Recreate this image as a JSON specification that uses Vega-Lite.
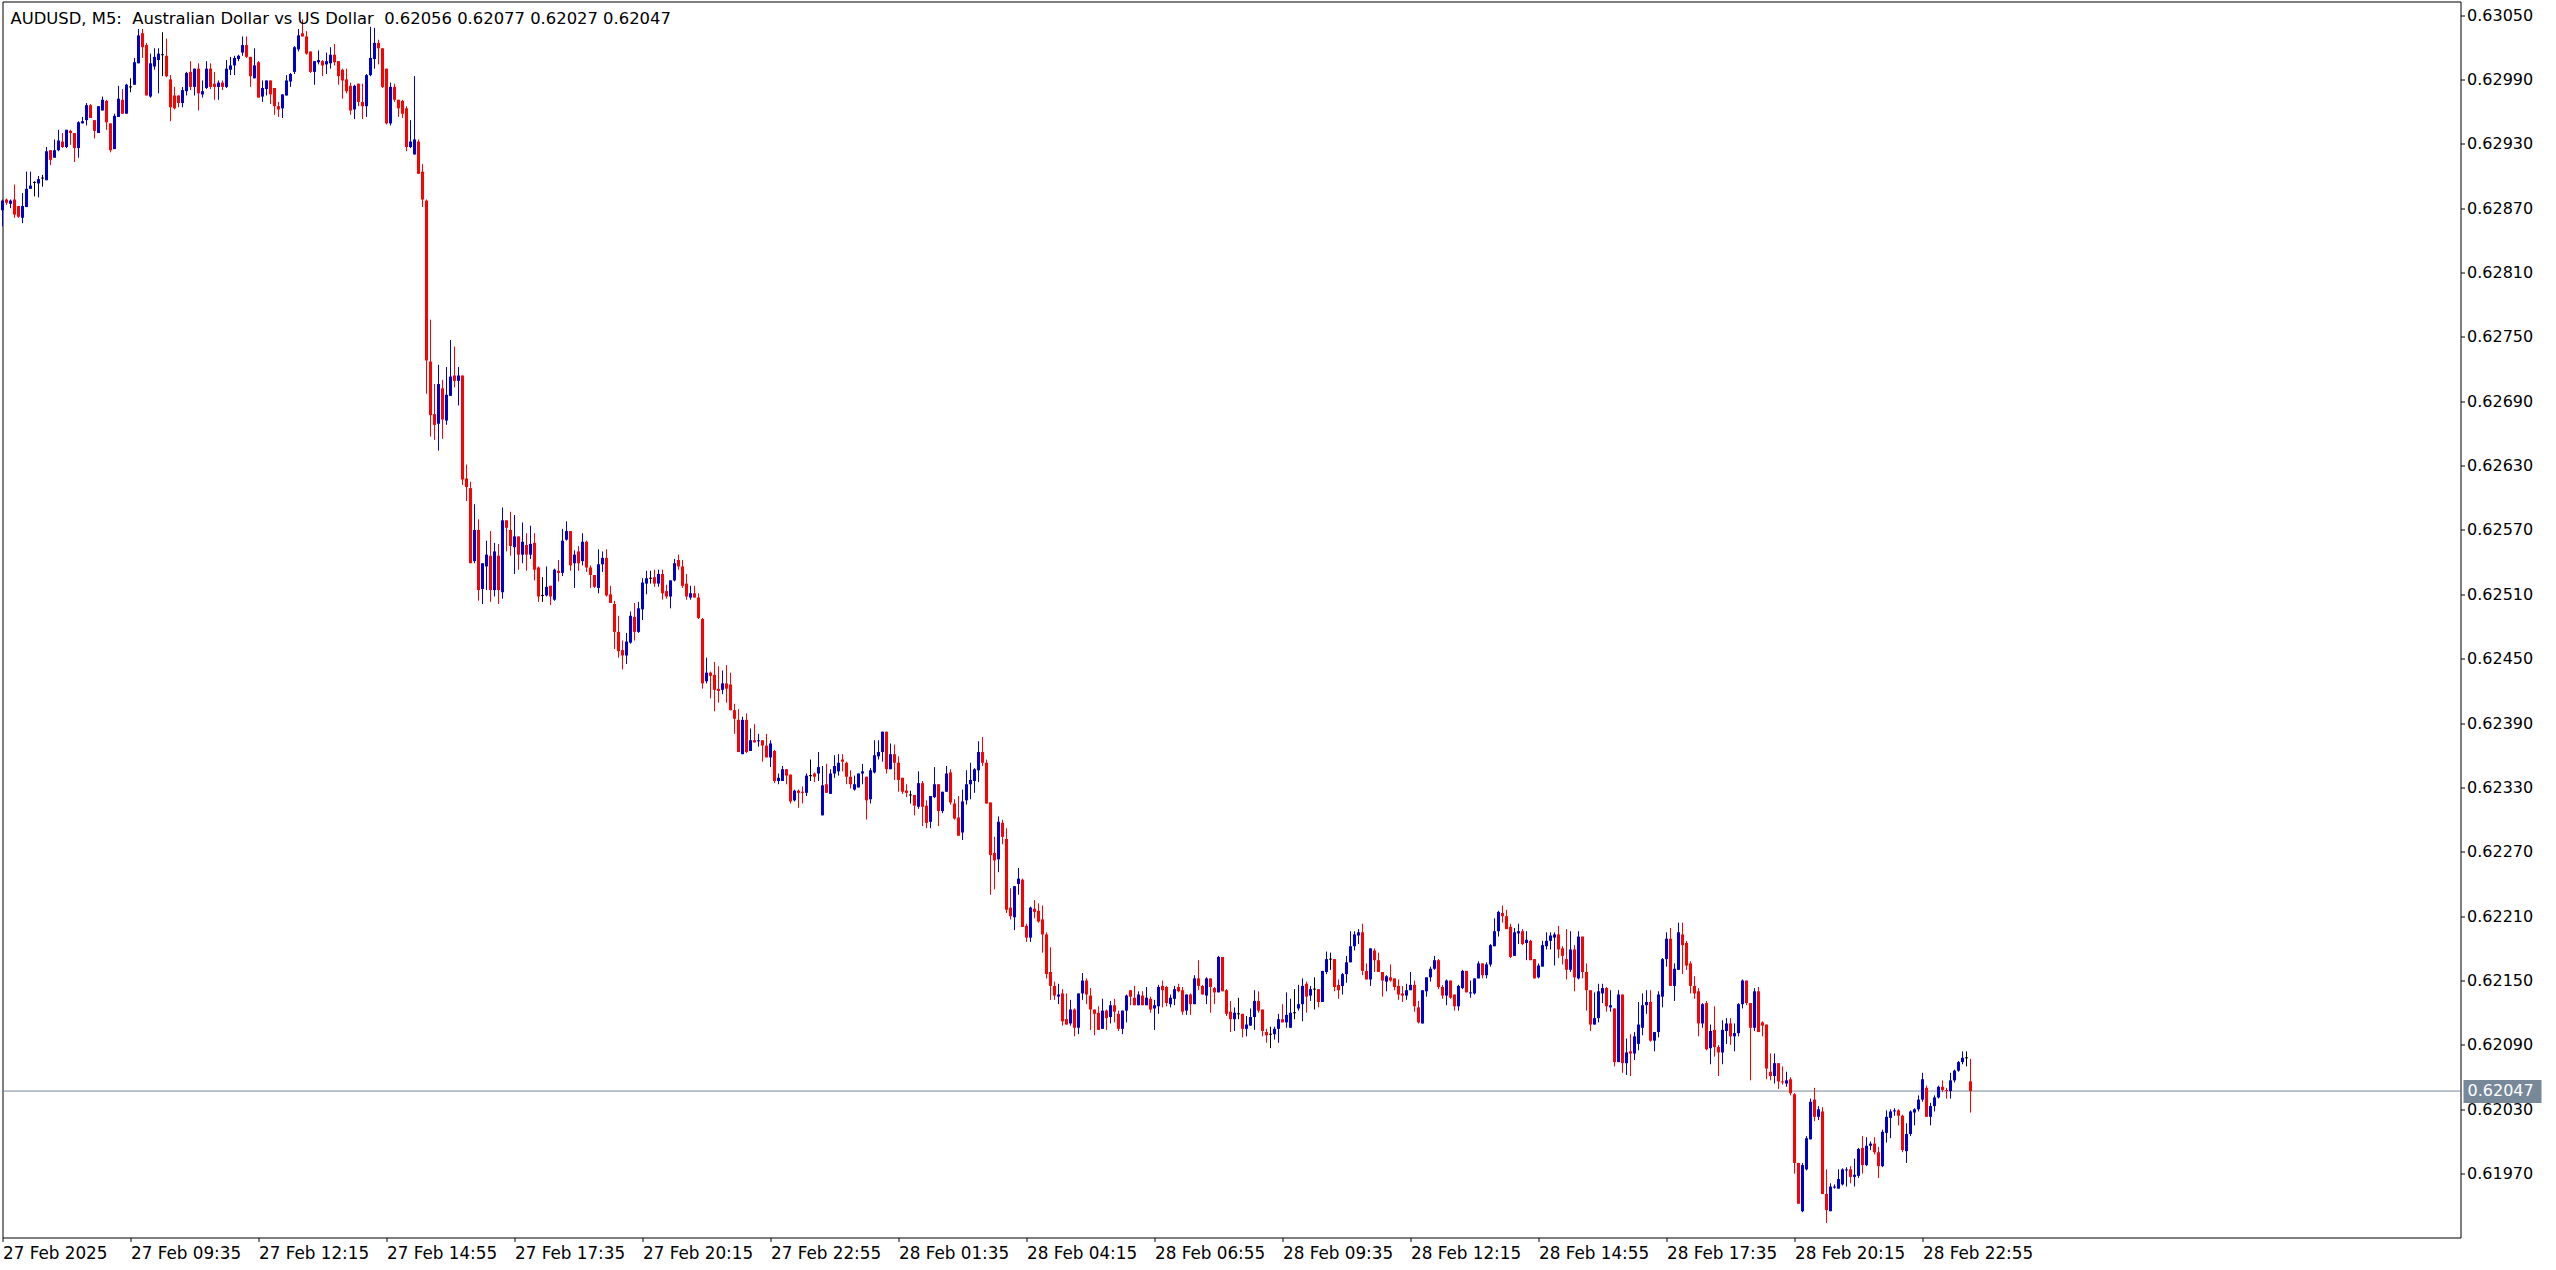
{
  "$schema": "https://vega.github.io/schema/vega-lite/v6.json",
  "width": 2458,
  "height": 1236,
  "autosize": "none",
  "padding": {"left": 2.5, "top": 1.5, "right": 95.5, "bottom": 32.5},
  "background": "#ffffff",
  "title": {
    "text": "AUDUSD, M5:\u00a0 Australian Dollar vs US Dollar\u00a0 0.62056 0.62077 0.62027 0.62047",
    "anchor": "start",
    "frame": "group",
    "orient": "top",
    "offset": -21,
    "dx": 8,
    "dy": 18,
    "font": "DejaVu Sans",
    "fontSize": 16.4,
    "fontWeight": "normal",
    "color": "#000000",
    "baseline": "alphabetic"
  },
  "config": {
    "view": {"stroke": "#000000", "strokeWidth": 1},
    "font": "DejaVu Sans",
    "axis": {
      "labelFont": "DejaVu Sans",
      "labelFontSize": 16,
      "labelColor": "#000000",
      "tickColor": "#000000",
      "tickWidth": 1,
      "domain": false,
      "grid": false,
      "title": null
    }
  },
  "datasets": {
    "bars": [
{"i":0,"o":0.62868,"h":0.62878,"l":0.62853,"c":0.62877},
{"i":1,"o":0.62878,"h":0.62879,"l":0.62873,"c":0.62875},
{"i":2,"o":0.62874,"h":0.62878,"l":0.62870,"c":0.62877},
{"i":3,"o":0.62878,"h":0.62892,"l":0.62861,"c":0.62864},
{"i":4,"o":0.62872,"h":0.62872,"l":0.62861,"c":0.62862},
{"i":5,"o":0.62861,"h":0.62884,"l":0.62856,"c":0.62872},
{"i":6,"o":0.62871,"h":0.62904,"l":0.62871,"c":0.62888},
{"i":7,"o":0.62888,"h":0.62904,"l":0.62888,"c":0.62891},
{"i":8,"o":0.62894,"h":0.62895,"l":0.62881,"c":0.62894},
{"i":9,"o":0.62893,"h":0.62900,"l":0.62880,"c":0.62897},
{"i":10,"o":0.62898,"h":0.62901,"l":0.62890,"c":0.62898},
{"i":11,"o":0.62896,"h":0.62927,"l":0.62896,"c":0.62923},
{"i":12,"o":0.62924,"h":0.62924,"l":0.62910,"c":0.62915},
{"i":13,"o":0.62917,"h":0.62934,"l":0.62917,"c":0.62924},
{"i":14,"o":0.62924,"h":0.62943,"l":0.62923,"c":0.62933},
{"i":15,"o":0.62932,"h":0.62940,"l":0.62926,"c":0.62927},
{"i":16,"o":0.62927,"h":0.62943,"l":0.62926,"c":0.62943},
{"i":17,"o":0.62942,"h":0.62943,"l":0.62929,"c":0.62940},
{"i":18,"o":0.62940,"h":0.62940,"l":0.62913,"c":0.62926},
{"i":19,"o":0.62926,"h":0.62951,"l":0.62917,"c":0.62950},
{"i":20,"o":0.62949,"h":0.62955,"l":0.62949,"c":0.62951},
{"i":21,"o":0.62952,"h":0.62968,"l":0.62947,"c":0.62966},
{"i":22,"o":0.62966,"h":0.62967,"l":0.62954,"c":0.62954},
{"i":23,"o":0.62952,"h":0.62952,"l":0.62935,"c":0.62942},
{"i":24,"o":0.62940,"h":0.62965,"l":0.62940,"c":0.62965},
{"i":25,"o":0.62961,"h":0.62974,"l":0.62961,"c":0.62971},
{"i":26,"o":0.62970,"h":0.62971,"l":0.62943,"c":0.62950},
{"i":27,"o":0.62949,"h":0.62949,"l":0.62922,"c":0.62924},
{"i":28,"o":0.62925,"h":0.62958,"l":0.62925,"c":0.62956},
{"i":29,"o":0.62955,"h":0.62984,"l":0.62955,"c":0.62972},
{"i":30,"o":0.62971,"h":0.62981,"l":0.62958,"c":0.62958},
{"i":31,"o":0.62958,"h":0.62986,"l":0.62958,"c":0.62985},
{"i":32,"o":0.62983,"h":0.62991,"l":0.62978,"c":0.62983},
{"i":33,"o":0.62985,"h":0.63010,"l":0.62985,"c":0.63006},
{"i":34,"o":0.63005,"h":0.63037,"l":0.63005,"c":0.63031},
{"i":35,"o":0.63033,"h":0.63037,"l":0.63010,"c":0.63020},
{"i":36,"o":0.63022,"h":0.63024,"l":0.62975,"c":0.62975},
{"i":37,"o":0.62974,"h":0.63014,"l":0.62973,"c":0.63005},
{"i":38,"o":0.63002,"h":0.63019,"l":0.62999,"c":0.63011},
{"i":39,"o":0.63008,"h":0.63019,"l":0.62977,"c":0.63014},
{"i":40,"o":0.63013,"h":0.63034,"l":0.62993,"c":0.63013},
{"i":41,"o":0.63012,"h":0.63028,"l":0.62992,"c":0.62993},
{"i":42,"o":0.62990,"h":0.62994,"l":0.62951,"c":0.62964},
{"i":43,"o":0.62975,"h":0.62983,"l":0.62962,"c":0.62963},
{"i":44,"o":0.62975,"h":0.62975,"l":0.62964,"c":0.62968},
{"i":45,"o":0.62968,"h":0.62983,"l":0.62964,"c":0.62980},
{"i":46,"o":0.62979,"h":0.62997,"l":0.62975,"c":0.62996},
{"i":47,"o":0.62997,"h":0.63007,"l":0.62980,"c":0.62983},
{"i":48,"o":0.62983,"h":0.63000,"l":0.62975,"c":0.63000},
{"i":49,"o":0.63000,"h":0.63005,"l":0.62961,"c":0.62977},
{"i":50,"o":0.62976,"h":0.62989,"l":0.62973,"c":0.62979},
{"i":51,"o":0.62982,"h":0.63007,"l":0.62981,"c":0.63000},
{"i":52,"o":0.63000,"h":0.63005,"l":0.62981,"c":0.62983},
{"i":53,"o":0.62986,"h":0.62997,"l":0.62971,"c":0.62983},
{"i":54,"o":0.62983,"h":0.62989,"l":0.62971,"c":0.62987},
{"i":55,"o":0.62987,"h":0.62989,"l":0.62980,"c":0.62983},
{"i":56,"o":0.62983,"h":0.63008,"l":0.62982,"c":0.63000},
{"i":57,"o":0.62999,"h":0.63011,"l":0.62994,"c":0.63003},
{"i":58,"o":0.63003,"h":0.63012,"l":0.62994,"c":0.63010},
{"i":59,"o":0.63009,"h":0.63013,"l":0.63007,"c":0.63012},
{"i":60,"o":0.63015,"h":0.63030,"l":0.63012,"c":0.63022},
{"i":61,"o":0.63022,"h":0.63030,"l":0.63010,"c":0.63011},
{"i":62,"o":0.63011,"h":0.63011,"l":0.62983,"c":0.62993},
{"i":63,"o":0.62991,"h":0.63019,"l":0.62991,"c":0.63003},
{"i":64,"o":0.63006,"h":0.63007,"l":0.62973,"c":0.62973},
{"i":65,"o":0.62974,"h":0.62989,"l":0.62969,"c":0.62982},
{"i":66,"o":0.62981,"h":0.62989,"l":0.62975,"c":0.62989},
{"i":67,"o":0.62989,"h":0.62989,"l":0.62967,"c":0.62976},
{"i":68,"o":0.62982,"h":0.62982,"l":0.62957,"c":0.62965},
{"i":69,"o":0.62965,"h":0.62969,"l":0.62955,"c":0.62962},
{"i":70,"o":0.62963,"h":0.62976,"l":0.62954,"c":0.62976},
{"i":71,"o":0.62975,"h":0.62994,"l":0.62975,"c":0.62989},
{"i":72,"o":0.62988,"h":0.62996,"l":0.62983,"c":0.62995},
{"i":73,"o":0.62997,"h":0.63021,"l":0.62995,"c":0.63020},
{"i":74,"o":0.63018,"h":0.63037,"l":0.63016,"c":0.63031},
{"i":75,"o":0.63033,"h":0.63046,"l":0.63030,"c":0.63030},
{"i":76,"o":0.63030,"h":0.63035,"l":0.63013,"c":0.63014},
{"i":77,"o":0.63016,"h":0.63016,"l":0.62996,"c":0.62997},
{"i":78,"o":0.62997,"h":0.63007,"l":0.62985,"c":0.63007},
{"i":79,"o":0.63006,"h":0.63017,"l":0.63004,"c":0.63008},
{"i":80,"o":0.63007,"h":0.63008,"l":0.62993,"c":0.63003},
{"i":81,"o":0.63004,"h":0.63015,"l":0.62995,"c":0.63007},
{"i":82,"o":0.63005,"h":0.63020,"l":0.63000,"c":0.63013},
{"i":83,"o":0.63013,"h":0.63023,"l":0.63003,"c":0.63006},
{"i":84,"o":0.63007,"h":0.63007,"l":0.62985,"c":0.62993},
{"i":85,"o":0.62999,"h":0.63000,"l":0.62972,"c":0.62989},
{"i":86,"o":0.62990,"h":0.63000,"l":0.62977,"c":0.62979},
{"i":87,"o":0.62984,"h":0.62987,"l":0.62957,"c":0.62961},
{"i":88,"o":0.62962,"h":0.62985,"l":0.62953,"c":0.62984},
{"i":89,"o":0.62986,"h":0.62986,"l":0.62965,"c":0.62969},
{"i":90,"o":0.62969,"h":0.62986,"l":0.62953,"c":0.62965},
{"i":91,"o":0.62965,"h":0.62995,"l":0.62955,"c":0.62994},
{"i":92,"o":0.62994,"h":0.63039,"l":0.62993,"c":0.63010},
{"i":93,"o":0.63009,"h":0.63038,"l":0.63000,"c":0.63024},
{"i":94,"o":0.63024,"h":0.63027,"l":0.63004,"c":0.63019},
{"i":95,"o":0.63019,"h":0.63019,"l":0.62982,"c":0.62983},
{"i":96,"o":0.63000,"h":0.63000,"l":0.62948,"c":0.62949},
{"i":97,"o":0.62949,"h":0.62987,"l":0.62947,"c":0.62983},
{"i":98,"o":0.62983,"h":0.62986,"l":0.62969,"c":0.62971},
{"i":99,"o":0.62971,"h":0.62971,"l":0.62955,"c":0.62963},
{"i":100,"o":0.62970,"h":0.62971,"l":0.62954,"c":0.62958},
{"i":101,"o":0.62963,"h":0.62965,"l":0.62923,"c":0.62927},
{"i":102,"o":0.62927,"h":0.62952,"l":0.62926,"c":0.62932},
{"i":103,"o":0.62920,"h":0.62993,"l":0.62920,"c":0.62934},
{"i":104,"o":0.62932,"h":0.62934,"l":0.62902,"c":0.62902},
{"i":105,"o":0.62904,"h":0.62911,"l":0.62871,"c":0.62878},
{"i":106,"o":0.62877,"h":0.62878,"l":0.62697,"c":0.62728},
{"i":107,"o":0.62727,"h":0.62766,"l":0.62657,"c":0.62677},
{"i":108,"o":0.62678,"h":0.62706,"l":0.62654,"c":0.62668},
{"i":109,"o":0.62669,"h":0.62724,"l":0.62644,"c":0.62706},
{"i":110,"o":0.62702,"h":0.62710,"l":0.62655,"c":0.62673},
{"i":111,"o":0.62672,"h":0.62722,"l":0.62668,"c":0.62696},
{"i":112,"o":0.62695,"h":0.62747,"l":0.62695,"c":0.62713},
{"i":113,"o":0.62714,"h":0.62741,"l":0.62703,"c":0.62709},
{"i":114,"o":0.62709,"h":0.62722,"l":0.62686,"c":0.62714},
{"i":115,"o":0.62714,"h":0.62714,"l":0.62612,"c":0.62617},
{"i":116,"o":0.62618,"h":0.62631,"l":0.62597,"c":0.62610},
{"i":117,"o":0.62609,"h":0.62615,"l":0.62539,"c":0.62539},
{"i":118,"o":0.62541,"h":0.62594,"l":0.62539,"c":0.62570},
{"i":119,"o":0.62570,"h":0.62580,"l":0.62504,"c":0.62514},
{"i":120,"o":0.62515,"h":0.62539,"l":0.62501,"c":0.62539},
{"i":121,"o":0.62536,"h":0.62560,"l":0.62514,"c":0.62547},
{"i":122,"o":0.62546,"h":0.62569,"l":0.62503,"c":0.62514},
{"i":123,"o":0.62514,"h":0.62558,"l":0.62508,"c":0.62550},
{"i":124,"o":0.62546,"h":0.62557,"l":0.62501,"c":0.62514},
{"i":125,"o":0.62512,"h":0.62591,"l":0.62506,"c":0.62579},
{"i":126,"o":0.62579,"h":0.62579,"l":0.62550,"c":0.62572},
{"i":127,"o":0.62570,"h":0.62587,"l":0.62546,"c":0.62555},
{"i":128,"o":0.62554,"h":0.62584,"l":0.62529,"c":0.62564},
{"i":129,"o":0.62564,"h":0.62564,"l":0.62533,"c":0.62547},
{"i":130,"o":0.62547,"h":0.62577,"l":0.62539,"c":0.62559},
{"i":131,"o":0.62556,"h":0.62567,"l":0.62532,"c":0.62547},
{"i":132,"o":0.62547,"h":0.62574,"l":0.62543,"c":0.62557},
{"i":133,"o":0.62558,"h":0.62567,"l":0.62523,"c":0.62533},
{"i":134,"o":0.62535,"h":0.62536,"l":0.62503,"c":0.62508},
{"i":135,"o":0.62509,"h":0.62526,"l":0.62503,"c":0.62509},
{"i":136,"o":0.62509,"h":0.62536,"l":0.62508,"c":0.62517},
{"i":137,"o":0.62518,"h":0.62518,"l":0.62500,"c":0.62508},
{"i":138,"o":0.62505,"h":0.62534,"l":0.62504,"c":0.62533},
{"i":139,"o":0.62532,"h":0.62542,"l":0.62522,"c":0.62530},
{"i":140,"o":0.62530,"h":0.62571,"l":0.62527,"c":0.62560},
{"i":141,"o":0.62561,"h":0.62578,"l":0.62560,"c":0.62569},
{"i":142,"o":0.62569,"h":0.62569,"l":0.62532,"c":0.62537},
{"i":143,"o":0.62539,"h":0.62551,"l":0.62516,"c":0.62547},
{"i":144,"o":0.62550,"h":0.62555,"l":0.62532,"c":0.62539},
{"i":145,"o":0.62541,"h":0.62567,"l":0.62537,"c":0.62559},
{"i":146,"o":0.62559,"h":0.62560,"l":0.62531,"c":0.62535},
{"i":147,"o":0.62535,"h":0.62537,"l":0.62516,"c":0.62528},
{"i":148,"o":0.62528,"h":0.62528,"l":0.62516,"c":0.62517},
{"i":149,"o":0.62516,"h":0.62552,"l":0.62511,"c":0.62538},
{"i":150,"o":0.62538,"h":0.62550,"l":0.62531,"c":0.62544},
{"i":151,"o":0.62544,"h":0.62552,"l":0.62508,"c":0.62509},
{"i":152,"o":0.62510,"h":0.62518,"l":0.62502,"c":0.62502},
{"i":153,"o":0.62501,"h":0.62504,"l":0.62459,"c":0.62475},
{"i":154,"o":0.62475,"h":0.62490,"l":0.62451,"c":0.62457},
{"i":155,"o":0.62458,"h":0.62467,"l":0.62440,"c":0.62453},
{"i":156,"o":0.62453,"h":0.62474,"l":0.62445,"c":0.62466},
{"i":157,"o":0.62465,"h":0.62494,"l":0.62464,"c":0.62490},
{"i":158,"o":0.62489,"h":0.62502,"l":0.62467,"c":0.62475},
{"i":159,"o":0.62475,"h":0.62503,"l":0.62474,"c":0.62497},
{"i":160,"o":0.62496,"h":0.62525,"l":0.62486,"c":0.62521},
{"i":161,"o":0.62520,"h":0.62532,"l":0.62510,"c":0.62525},
{"i":162,"o":0.62525,"h":0.62532,"l":0.62520,"c":0.62525},
{"i":163,"o":0.62526,"h":0.62533,"l":0.62517,"c":0.62520},
{"i":164,"o":0.62520,"h":0.62533,"l":0.62517,"c":0.62529},
{"i":165,"o":0.62529,"h":0.62533,"l":0.62505,"c":0.62511},
{"i":166,"o":0.62513,"h":0.62519,"l":0.62506,"c":0.62508},
{"i":167,"o":0.62508,"h":0.62523,"l":0.62497,"c":0.62523},
{"i":168,"o":0.62523,"h":0.62543,"l":0.62522,"c":0.62539},
{"i":169,"o":0.62542,"h":0.62547,"l":0.62533,"c":0.62536},
{"i":170,"o":0.62536,"h":0.62542,"l":0.62516,"c":0.62518},
{"i":171,"o":0.62520,"h":0.62529,"l":0.62505,"c":0.62508},
{"i":172,"o":0.62507,"h":0.62518,"l":0.62505,"c":0.62511},
{"i":173,"o":0.62511,"h":0.62518,"l":0.62507,"c":0.62507},
{"i":174,"o":0.62507,"h":0.62511,"l":0.62487,"c":0.62488},
{"i":175,"o":0.62487,"h":0.62488,"l":0.62422,"c":0.62427},
{"i":176,"o":0.62429,"h":0.62451,"l":0.62427,"c":0.62437},
{"i":177,"o":0.62437,"h":0.62438,"l":0.62413,"c":0.62434},
{"i":178,"o":0.62435,"h":0.62447,"l":0.62401,"c":0.62421},
{"i":179,"o":0.62422,"h":0.62443,"l":0.62409,"c":0.62420},
{"i":180,"o":0.62421,"h":0.62439,"l":0.62417,"c":0.62427},
{"i":181,"o":0.62427,"h":0.62444,"l":0.62409,"c":0.62422},
{"i":182,"o":0.62426,"h":0.62437,"l":0.62402,"c":0.62402},
{"i":183,"o":0.62402,"h":0.62408,"l":0.62380,"c":0.62394},
{"i":184,"o":0.62393,"h":0.62403,"l":0.62363,"c":0.62363},
{"i":185,"o":0.62361,"h":0.62396,"l":0.62361,"c":0.62393},
{"i":186,"o":0.62393,"h":0.62399,"l":0.62362,"c":0.62363},
{"i":187,"o":0.62364,"h":0.62385,"l":0.62364,"c":0.62374},
{"i":188,"o":0.62374,"h":0.62389,"l":0.62372,"c":0.62372},
{"i":189,"o":0.62373,"h":0.62380,"l":0.62368,"c":0.62374},
{"i":190,"o":0.62374,"h":0.62374,"l":0.62354,"c":0.62369},
{"i":191,"o":0.62369,"h":0.62380,"l":0.62358,"c":0.62358},
{"i":192,"o":0.62358,"h":0.62374,"l":0.62349,"c":0.62371},
{"i":193,"o":0.62364,"h":0.62365,"l":0.62334,"c":0.62336},
{"i":194,"o":0.62336,"h":0.62343,"l":0.62333,"c":0.62339},
{"i":195,"o":0.62336,"h":0.62350,"l":0.62336,"c":0.62347},
{"i":196,"o":0.62347,"h":0.62347,"l":0.62333,"c":0.62341},
{"i":197,"o":0.62342,"h":0.62342,"l":0.62315,"c":0.62317},
{"i":198,"o":0.62318,"h":0.62328,"l":0.62317,"c":0.62327},
{"i":199,"o":0.62327,"h":0.62328,"l":0.62311,"c":0.62325},
{"i":200,"o":0.62326,"h":0.62331,"l":0.62315,"c":0.62325},
{"i":201,"o":0.62325,"h":0.62343,"l":0.62322,"c":0.62341},
{"i":202,"o":0.62341,"h":0.62356,"l":0.62336,"c":0.62341},
{"i":203,"o":0.62343,"h":0.62344,"l":0.62335,"c":0.62340},
{"i":204,"o":0.62343,"h":0.62363,"l":0.62336,"c":0.62349},
{"i":205,"o":0.62304,"h":0.62350,"l":0.62304,"c":0.62332},
{"i":206,"o":0.62333,"h":0.62352,"l":0.62325,"c":0.62325},
{"i":207,"o":0.62324,"h":0.62347,"l":0.62324,"c":0.62343},
{"i":208,"o":0.62343,"h":0.62360,"l":0.62339,"c":0.62350},
{"i":209,"o":0.62345,"h":0.62361,"l":0.62341,"c":0.62353},
{"i":210,"o":0.62356,"h":0.62361,"l":0.62345,"c":0.62354},
{"i":211,"o":0.62353,"h":0.62354,"l":0.62333,"c":0.62340},
{"i":212,"o":0.62340,"h":0.62346,"l":0.62329,"c":0.62333},
{"i":213,"o":0.62328,"h":0.62341,"l":0.62327,"c":0.62333},
{"i":214,"o":0.62330,"h":0.62343,"l":0.62330,"c":0.62343},
{"i":215,"o":0.62343,"h":0.62352,"l":0.62333,"c":0.62345},
{"i":216,"o":0.62340,"h":0.62340,"l":0.62300,"c":0.62318},
{"i":217,"o":0.62319,"h":0.62348,"l":0.62315,"c":0.62346},
{"i":218,"o":0.62344,"h":0.62374,"l":0.62343,"c":0.62360},
{"i":219,"o":0.62359,"h":0.62374,"l":0.62356,"c":0.62363},
{"i":220,"o":0.62363,"h":0.62382,"l":0.62354,"c":0.62382},
{"i":221,"o":0.62382,"h":0.62382,"l":0.62343,"c":0.62347},
{"i":222,"o":0.62347,"h":0.62371,"l":0.62347,"c":0.62361},
{"i":223,"o":0.62361,"h":0.62370,"l":0.62337,"c":0.62353},
{"i":224,"o":0.62353,"h":0.62359,"l":0.62326,"c":0.62337},
{"i":225,"o":0.62339,"h":0.62339,"l":0.62324,"c":0.62326},
{"i":226,"o":0.62327,"h":0.62333,"l":0.62321,"c":0.62325},
{"i":227,"o":0.62323,"h":0.62327,"l":0.62315,"c":0.62323},
{"i":228,"o":0.62323,"h":0.62323,"l":0.62304,"c":0.62313},
{"i":229,"o":0.62312,"h":0.62345,"l":0.62310,"c":0.62334},
{"i":230,"o":0.62334,"h":0.62336,"l":0.62294,"c":0.62312},
{"i":231,"o":0.62313,"h":0.62318,"l":0.62292,"c":0.62297},
{"i":232,"o":0.62298,"h":0.62322,"l":0.62292,"c":0.62322},
{"i":233,"o":0.62321,"h":0.62349,"l":0.62320,"c":0.62333},
{"i":234,"o":0.62333,"h":0.62333,"l":0.62294,"c":0.62308},
{"i":235,"o":0.62308,"h":0.62326,"l":0.62306,"c":0.62326},
{"i":236,"o":0.62326,"h":0.62350,"l":0.62326,"c":0.62343},
{"i":237,"o":0.62344,"h":0.62347,"l":0.62314,"c":0.62316},
{"i":238,"o":0.62315,"h":0.62319,"l":0.62300,"c":0.62301},
{"i":239,"o":0.62302,"h":0.62322,"l":0.62285,"c":0.62285},
{"i":240,"o":0.62288,"h":0.62328,"l":0.62281,"c":0.62317},
{"i":241,"o":0.62318,"h":0.62346,"l":0.62314,"c":0.62333},
{"i":242,"o":0.62333,"h":0.62353,"l":0.62319,"c":0.62337},
{"i":243,"o":0.62336,"h":0.62348,"l":0.62325,"c":0.62347},
{"i":244,"o":0.62346,"h":0.62373,"l":0.62335,"c":0.62363},
{"i":245,"o":0.62363,"h":0.62377,"l":0.62350,"c":0.62353},
{"i":246,"o":0.62353,"h":0.62356,"l":0.62315,"c":0.62315},
{"i":247,"o":0.62316,"h":0.62316,"l":0.62230,"c":0.62267},
{"i":248,"o":0.62269,"h":0.62284,"l":0.62235,"c":0.62262},
{"i":249,"o":0.62263,"h":0.62303,"l":0.62251,"c":0.62298},
{"i":250,"o":0.62297,"h":0.62300,"l":0.62277,"c":0.62284},
{"i":251,"o":0.62282,"h":0.62292,"l":0.62213,"c":0.62216},
{"i":252,"o":0.62218,"h":0.62236,"l":0.62207,"c":0.62210},
{"i":253,"o":0.62209,"h":0.62238,"l":0.62197,"c":0.62238},
{"i":254,"o":0.62240,"h":0.62255,"l":0.62230,"c":0.62245},
{"i":255,"o":0.62244,"h":0.62245,"l":0.62200,"c":0.62200},
{"i":256,"o":0.62201,"h":0.62203,"l":0.62186,"c":0.62190},
{"i":257,"o":0.62190,"h":0.62219,"l":0.62186,"c":0.62218},
{"i":258,"o":0.62217,"h":0.62225,"l":0.62208,"c":0.62214},
{"i":259,"o":0.62215,"h":0.62222,"l":0.62204,"c":0.62205},
{"i":260,"o":0.62207,"h":0.62220,"l":0.62176,"c":0.62193},
{"i":261,"o":0.62193,"h":0.62195,"l":0.62152,"c":0.62156},
{"i":262,"o":0.62158,"h":0.62181,"l":0.62132,"c":0.62145},
{"i":263,"o":0.62145,"h":0.62149,"l":0.62132,"c":0.62136},
{"i":264,"o":0.62135,"h":0.62147,"l":0.62128,"c":0.62137},
{"i":265,"o":0.62138,"h":0.62142,"l":0.62108,"c":0.62112},
{"i":266,"o":0.62114,"h":0.62138,"l":0.62109,"c":0.62109},
{"i":267,"o":0.62110,"h":0.62132,"l":0.62108,"c":0.62123},
{"i":268,"o":0.62123,"h":0.62124,"l":0.62098,"c":0.62106},
{"i":269,"o":0.62106,"h":0.62138,"l":0.62100,"c":0.62138},
{"i":270,"o":0.62138,"h":0.62157,"l":0.62132,"c":0.62150},
{"i":271,"o":0.62150,"h":0.62152,"l":0.62128,"c":0.62137},
{"i":272,"o":0.62136,"h":0.62143,"l":0.62104,"c":0.62123},
{"i":273,"o":0.62123,"h":0.62123,"l":0.62099,"c":0.62119},
{"i":274,"o":0.62120,"h":0.62126,"l":0.62104,"c":0.62104},
{"i":275,"o":0.62105,"h":0.62133,"l":0.62105,"c":0.62122},
{"i":276,"o":0.62122,"h":0.62123,"l":0.62104,"c":0.62115},
{"i":277,"o":0.62116,"h":0.62131,"l":0.62110,"c":0.62127},
{"i":278,"o":0.62127,"h":0.62133,"l":0.62111,"c":0.62121},
{"i":279,"o":0.62119,"h":0.62122,"l":0.62103,"c":0.62105},
{"i":280,"o":0.62105,"h":0.62122,"l":0.62100,"c":0.62122},
{"i":281,"o":0.62122,"h":0.62137,"l":0.62111,"c":0.62136},
{"i":282,"o":0.62141,"h":0.62141,"l":0.62127,"c":0.62135},
{"i":283,"o":0.62134,"h":0.62145,"l":0.62127,"c":0.62127},
{"i":284,"o":0.62127,"h":0.62140,"l":0.62127,"c":0.62137},
{"i":285,"o":0.62136,"h":0.62140,"l":0.62127,"c":0.62127},
{"i":286,"o":0.62127,"h":0.62144,"l":0.62127,"c":0.62134},
{"i":287,"o":0.62133,"h":0.62135,"l":0.62120,"c":0.62123},
{"i":288,"o":0.62124,"h":0.62132,"l":0.62104,"c":0.62127},
{"i":289,"o":0.62126,"h":0.62146,"l":0.62119,"c":0.62144},
{"i":290,"o":0.62145,"h":0.62150,"l":0.62125,"c":0.62141},
{"i":291,"o":0.62144,"h":0.62145,"l":0.62126,"c":0.62129},
{"i":292,"o":0.62128,"h":0.62137,"l":0.62125,"c":0.62134},
{"i":293,"o":0.62133,"h":0.62145,"l":0.62127,"c":0.62142},
{"i":294,"o":0.62144,"h":0.62147,"l":0.62139,"c":0.62140},
{"i":295,"o":0.62141,"h":0.62144,"l":0.62118,"c":0.62121},
{"i":296,"o":0.62122,"h":0.62137,"l":0.62118,"c":0.62137},
{"i":297,"o":0.62137,"h":0.62138,"l":0.62118,"c":0.62128},
{"i":298,"o":0.62128,"h":0.62155,"l":0.62128,"c":0.62152},
{"i":299,"o":0.62152,"h":0.62169,"l":0.62141,"c":0.62145},
{"i":300,"o":0.62145,"h":0.62146,"l":0.62137,"c":0.62137},
{"i":301,"o":0.62136,"h":0.62153,"l":0.62128,"c":0.62152},
{"i":302,"o":0.62152,"h":0.62152,"l":0.62120,"c":0.62144},
{"i":303,"o":0.62143,"h":0.62144,"l":0.62128,"c":0.62139},
{"i":304,"o":0.62139,"h":0.62173,"l":0.62139,"c":0.62172},
{"i":305,"o":0.62172,"h":0.62172,"l":0.62140,"c":0.62140},
{"i":306,"o":0.62141,"h":0.62142,"l":0.62117,"c":0.62119},
{"i":307,"o":0.62121,"h":0.62131,"l":0.62102,"c":0.62114},
{"i":308,"o":0.62114,"h":0.62125,"l":0.62103,"c":0.62120},
{"i":309,"o":0.62119,"h":0.62134,"l":0.62114,"c":0.62119},
{"i":310,"o":0.62119,"h":0.62119,"l":0.62097,"c":0.62105},
{"i":311,"o":0.62105,"h":0.62117,"l":0.62098,"c":0.62109},
{"i":312,"o":0.62108,"h":0.62124,"l":0.62108,"c":0.62116},
{"i":313,"o":0.62116,"h":0.62141,"l":0.62104,"c":0.62131},
{"i":314,"o":0.62131,"h":0.62140,"l":0.62120,"c":0.62122},
{"i":315,"o":0.62123,"h":0.62123,"l":0.62098,"c":0.62103},
{"i":316,"o":0.62102,"h":0.62105,"l":0.62092,"c":0.62099},
{"i":317,"o":0.62100,"h":0.62107,"l":0.62087,"c":0.62100},
{"i":318,"o":0.62100,"h":0.62107,"l":0.62095,"c":0.62105},
{"i":319,"o":0.62105,"h":0.62119,"l":0.62092,"c":0.62114},
{"i":320,"o":0.62114,"h":0.62128,"l":0.62111,"c":0.62111},
{"i":321,"o":0.62111,"h":0.62139,"l":0.62106,"c":0.62118},
{"i":322,"o":0.62106,"h":0.62133,"l":0.62106,"c":0.62120},
{"i":323,"o":0.62120,"h":0.62142,"l":0.62114,"c":0.62120},
{"i":324,"o":0.62124,"h":0.62146,"l":0.62122,"c":0.62128},
{"i":325,"o":0.62128,"h":0.62152,"l":0.62112,"c":0.62145},
{"i":326,"o":0.62147,"h":0.62149,"l":0.62120,"c":0.62135},
{"i":327,"o":0.62136,"h":0.62145,"l":0.62131,"c":0.62142},
{"i":328,"o":0.62142,"h":0.62153,"l":0.62123,"c":0.62142},
{"i":329,"o":0.62142,"h":0.62142,"l":0.62125,"c":0.62130},
{"i":330,"o":0.62130,"h":0.62159,"l":0.62130,"c":0.62159},
{"i":331,"o":0.62158,"h":0.62177,"l":0.62156,"c":0.62170},
{"i":332,"o":0.62170,"h":0.62176,"l":0.62160,"c":0.62170},
{"i":333,"o":0.62170,"h":0.62170,"l":0.62140,"c":0.62144},
{"i":334,"o":0.62146,"h":0.62151,"l":0.62133,"c":0.62141},
{"i":335,"o":0.62145,"h":0.62157,"l":0.62137,"c":0.62156},
{"i":336,"o":0.62156,"h":0.62173,"l":0.62148,"c":0.62167},
{"i":337,"o":0.62167,"h":0.62196,"l":0.62167,"c":0.62182},
{"i":338,"o":0.62182,"h":0.62196,"l":0.62178,"c":0.62193},
{"i":339,"o":0.62192,"h":0.62198,"l":0.62184,"c":0.62195},
{"i":340,"o":0.62195,"h":0.62203,"l":0.62155,"c":0.62159},
{"i":341,"o":0.62159,"h":0.62166,"l":0.62151,"c":0.62151},
{"i":342,"o":0.62151,"h":0.62180,"l":0.62145,"c":0.62180},
{"i":343,"o":0.62178,"h":0.62180,"l":0.62158,"c":0.62169},
{"i":344,"o":0.62169,"h":0.62176,"l":0.62158,"c":0.62158},
{"i":345,"o":0.62158,"h":0.62158,"l":0.62135,"c":0.62150},
{"i":346,"o":0.62149,"h":0.62155,"l":0.62140,"c":0.62154},
{"i":347,"o":0.62153,"h":0.62165,"l":0.62149,"c":0.62150},
{"i":348,"o":0.62152,"h":0.62152,"l":0.62141,"c":0.62144},
{"i":349,"o":0.62145,"h":0.62151,"l":0.62132,"c":0.62137},
{"i":350,"o":0.62138,"h":0.62145,"l":0.62130,"c":0.62136},
{"i":351,"o":0.62136,"h":0.62147,"l":0.62132,"c":0.62141},
{"i":352,"o":0.62141,"h":0.62158,"l":0.62141,"c":0.62146},
{"i":353,"o":0.62146,"h":0.62150,"l":0.62121,"c":0.62126},
{"i":354,"o":0.62125,"h":0.62131,"l":0.62110,"c":0.62111},
{"i":355,"o":0.62110,"h":0.62141,"l":0.62110,"c":0.62141},
{"i":356,"o":0.62140,"h":0.62153,"l":0.62135,"c":0.62153},
{"i":357,"o":0.62153,"h":0.62163,"l":0.62149,"c":0.62161},
{"i":358,"o":0.62161,"h":0.62173,"l":0.62160,"c":0.62169},
{"i":359,"o":0.62169,"h":0.62170,"l":0.62142,"c":0.62144},
{"i":360,"o":0.62144,"h":0.62146,"l":0.62133,"c":0.62136},
{"i":361,"o":0.62136,"h":0.62151,"l":0.62127,"c":0.62150},
{"i":362,"o":0.62150,"h":0.62150,"l":0.62133,"c":0.62134},
{"i":363,"o":0.62137,"h":0.62137,"l":0.62122,"c":0.62126},
{"i":364,"o":0.62126,"h":0.62146,"l":0.62122,"c":0.62145},
{"i":365,"o":0.62143,"h":0.62160,"l":0.62142,"c":0.62159},
{"i":366,"o":0.62159,"h":0.62159,"l":0.62139,"c":0.62139},
{"i":367,"o":0.62138,"h":0.62150,"l":0.62134,"c":0.62139},
{"i":368,"o":0.62138,"h":0.62152,"l":0.62137,"c":0.62152},
{"i":369,"o":0.62152,"h":0.62168,"l":0.62152,"c":0.62166},
{"i":370,"o":0.62166,"h":0.62166,"l":0.62152,"c":0.62155},
{"i":371,"o":0.62155,"h":0.62167,"l":0.62152,"c":0.62165},
{"i":372,"o":0.62165,"h":0.62184,"l":0.62163,"c":0.62183},
{"i":373,"o":0.62182,"h":0.62208,"l":0.62182,"c":0.62196},
{"i":374,"o":0.62196,"h":0.62215,"l":0.62191,"c":0.62214},
{"i":375,"o":0.62213,"h":0.62220,"l":0.62204,"c":0.62210},
{"i":376,"o":0.62210,"h":0.62216,"l":0.62198,"c":0.62198},
{"i":377,"o":0.62200,"h":0.62203,"l":0.62171,"c":0.62172},
{"i":378,"o":0.62173,"h":0.62199,"l":0.62173,"c":0.62195},
{"i":379,"o":0.62194,"h":0.62203,"l":0.62184,"c":0.62196},
{"i":380,"o":0.62196,"h":0.62198,"l":0.62183,"c":0.62184},
{"i":381,"o":0.62185,"h":0.62196,"l":0.62169,"c":0.62188},
{"i":382,"o":0.62187,"h":0.62188,"l":0.62169,"c":0.62169},
{"i":383,"o":0.62170,"h":0.62170,"l":0.62152,"c":0.62152},
{"i":384,"o":0.62153,"h":0.62166,"l":0.62152,"c":0.62164},
{"i":385,"o":0.62163,"h":0.62187,"l":0.62163,"c":0.62183},
{"i":386,"o":0.62182,"h":0.62195,"l":0.62179,"c":0.62187},
{"i":387,"o":0.62187,"h":0.62195,"l":0.62179,"c":0.62192},
{"i":388,"o":0.62190,"h":0.62195,"l":0.62164,"c":0.62193},
{"i":389,"o":0.62193,"h":0.62201,"l":0.62171,"c":0.62179},
{"i":390,"o":0.62180,"h":0.62182,"l":0.62165,"c":0.62173},
{"i":391,"o":0.62170,"h":0.62198,"l":0.62151,"c":0.62160},
{"i":392,"o":0.62160,"h":0.62196,"l":0.62158,"c":0.62179},
{"i":393,"o":0.62179,"h":0.62183,"l":0.62140,"c":0.62153},
{"i":394,"o":0.62152,"h":0.62196,"l":0.62151,"c":0.62191},
{"i":395,"o":0.62191,"h":0.62191,"l":0.62152,"c":0.62158},
{"i":396,"o":0.62158,"h":0.62166,"l":0.62122,"c":0.62141},
{"i":397,"o":0.62141,"h":0.62141,"l":0.62103,"c":0.62109},
{"i":398,"o":0.62109,"h":0.62139,"l":0.62109,"c":0.62115},
{"i":399,"o":0.62115,"h":0.62147,"l":0.62111,"c":0.62140},
{"i":400,"o":0.62138,"h":0.62147,"l":0.62129,"c":0.62143},
{"i":401,"o":0.62143,"h":0.62144,"l":0.62121,"c":0.62126},
{"i":402,"o":0.62125,"h":0.62141,"l":0.62121,"c":0.62127},
{"i":403,"o":0.62124,"h":0.62124,"l":0.62070,"c":0.62074},
{"i":404,"o":0.62074,"h":0.62141,"l":0.62074,"c":0.62137},
{"i":405,"o":0.62137,"h":0.62137,"l":0.62064,"c":0.62073},
{"i":406,"o":0.62073,"h":0.62096,"l":0.62062,"c":0.62083},
{"i":407,"o":0.62084,"h":0.62100,"l":0.62061,"c":0.62082},
{"i":408,"o":0.62082,"h":0.62102,"l":0.62076,"c":0.62098},
{"i":409,"o":0.62091,"h":0.62130,"l":0.62085,"c":0.62109},
{"i":410,"o":0.62106,"h":0.62138,"l":0.62099,"c":0.62127},
{"i":411,"o":0.62127,"h":0.62141,"l":0.62119,"c":0.62130},
{"i":412,"o":0.62130,"h":0.62141,"l":0.62093,"c":0.62094},
{"i":413,"o":0.62094,"h":0.62102,"l":0.62084,"c":0.62102},
{"i":414,"o":0.62102,"h":0.62140,"l":0.62097,"c":0.62137},
{"i":415,"o":0.62135,"h":0.62171,"l":0.62125,"c":0.62170},
{"i":416,"o":0.62170,"h":0.62195,"l":0.62163,"c":0.62189},
{"i":417,"o":0.62189,"h":0.62199,"l":0.62145,"c":0.62145},
{"i":418,"o":0.62145,"h":0.62166,"l":0.62131,"c":0.62161},
{"i":419,"o":0.62160,"h":0.62204,"l":0.62160,"c":0.62195},
{"i":420,"o":0.62193,"h":0.62204,"l":0.62156,"c":0.62183},
{"i":421,"o":0.62185,"h":0.62187,"l":0.62160,"c":0.62164},
{"i":422,"o":0.62166,"h":0.62168,"l":0.62138,"c":0.62145},
{"i":423,"o":0.62145,"h":0.62154,"l":0.62133,"c":0.62138},
{"i":424,"o":0.62140,"h":0.62143,"l":0.62098,"c":0.62110},
{"i":425,"o":0.62110,"h":0.62129,"l":0.62106,"c":0.62128},
{"i":426,"o":0.62129,"h":0.62131,"l":0.62085,"c":0.62086},
{"i":427,"o":0.62087,"h":0.62109,"l":0.62072,"c":0.62103},
{"i":428,"o":0.62104,"h":0.62126,"l":0.62079,"c":0.62088},
{"i":429,"o":0.62088,"h":0.62090,"l":0.62061,"c":0.62083},
{"i":430,"o":0.62083,"h":0.62113,"l":0.62072,"c":0.62104},
{"i":431,"o":0.62103,"h":0.62115,"l":0.62091,"c":0.62110},
{"i":432,"o":0.62110,"h":0.62115,"l":0.62090,"c":0.62098},
{"i":433,"o":0.62098,"h":0.62110,"l":0.62084,"c":0.62101},
{"i":434,"o":0.62101,"h":0.62129,"l":0.62098,"c":0.62128},
{"i":435,"o":0.62128,"h":0.62151,"l":0.62124,"c":0.62150},
{"i":436,"o":0.62150,"h":0.62150,"l":0.62127,"c":0.62129},
{"i":437,"o":0.62129,"h":0.62129,"l":0.62057,"c":0.62106},
{"i":438,"o":0.62106,"h":0.62143,"l":0.62103,"c":0.62140},
{"i":439,"o":0.62140,"h":0.62144,"l":0.62102,"c":0.62102},
{"i":440,"o":0.62111,"h":0.62112,"l":0.62098,"c":0.62108},
{"i":441,"o":0.62109,"h":0.62109,"l":0.62058,"c":0.62068},
{"i":442,"o":0.62065,"h":0.62082,"l":0.62057,"c":0.62061},
{"i":443,"o":0.62061,"h":0.62082,"l":0.62054,"c":0.62073},
{"i":444,"o":0.62073,"h":0.62073,"l":0.62049,"c":0.62056},
{"i":445,"o":0.62056,"h":0.62070,"l":0.62053,"c":0.62055},
{"i":446,"o":0.62054,"h":0.62065,"l":0.62051,"c":0.62057},
{"i":447,"o":0.62058,"h":0.62060,"l":0.62043,"c":0.62045},
{"i":448,"o":0.62044,"h":0.62045,"l":0.61970,"c":0.61980},
{"i":449,"o":0.61980,"h":0.61980,"l":0.61942,"c":0.61942},
{"i":450,"o":0.61935,"h":0.61980,"l":0.61934,"c":0.61978},
{"i":451,"o":0.61974,"h":0.62005,"l":0.61973,"c":0.62003},
{"i":452,"o":0.62002,"h":0.62040,"l":0.62002,"c":0.62037},
{"i":453,"o":0.62039,"h":0.62050,"l":0.62019,"c":0.62023},
{"i":454,"o":0.62023,"h":0.62033,"l":0.62020,"c":0.62030},
{"i":455,"o":0.62028,"h":0.62032,"l":0.61951,"c":0.61951},
{"i":456,"o":0.61951,"h":0.61974,"l":0.61924,"c":0.61936},
{"i":457,"o":0.61935,"h":0.61961,"l":0.61935,"c":0.61958},
{"i":458,"o":0.61957,"h":0.61960,"l":0.61956,"c":0.61958},
{"i":459,"o":0.61956,"h":0.61974,"l":0.61956,"c":0.61965},
{"i":460,"o":0.61960,"h":0.61975,"l":0.61959,"c":0.61974},
{"i":461,"o":0.61973,"h":0.61976,"l":0.61958,"c":0.61974},
{"i":462,"o":0.61974,"h":0.61977,"l":0.61961,"c":0.61967},
{"i":463,"o":0.61967,"h":0.61984,"l":0.61958,"c":0.61969},
{"i":464,"o":0.61968,"h":0.61994,"l":0.61966,"c":0.61993},
{"i":465,"o":0.61994,"h":0.62005,"l":0.61970,"c":0.61978},
{"i":466,"o":0.61978,"h":0.62004,"l":0.61977,"c":0.61996},
{"i":467,"o":0.61996,"h":0.62000,"l":0.61992,"c":0.61998},
{"i":468,"o":0.61998,"h":0.62004,"l":0.61988,"c":0.61990},
{"i":469,"o":0.61990,"h":0.61995,"l":0.61966,"c":0.61977},
{"i":470,"o":0.61977,"h":0.62011,"l":0.61976,"c":0.62009},
{"i":471,"o":0.62008,"h":0.62029,"l":0.61999,"c":0.62023},
{"i":472,"o":0.62022,"h":0.62030,"l":0.62003,"c":0.62028},
{"i":473,"o":0.62028,"h":0.62031,"l":0.62024,"c":0.62029},
{"i":474,"o":0.62029,"h":0.62030,"l":0.62015,"c":0.62024},
{"i":475,"o":0.62024,"h":0.62025,"l":0.61990,"c":0.61992},
{"i":476,"o":0.61991,"h":0.62017,"l":0.61980,"c":0.62007},
{"i":477,"o":0.62007,"h":0.62029,"l":0.62005,"c":0.62028},
{"i":478,"o":0.62027,"h":0.62031,"l":0.62015,"c":0.62030},
{"i":479,"o":0.62030,"h":0.62043,"l":0.62028,"c":0.62039},
{"i":480,"o":0.62039,"h":0.62064,"l":0.62037,"c":0.62058},
{"i":481,"o":0.62050,"h":0.62052,"l":0.62023,"c":0.62023},
{"i":482,"o":0.62023,"h":0.62036,"l":0.62015,"c":0.62033},
{"i":483,"o":0.62033,"h":0.62043,"l":0.62028,"c":0.62041},
{"i":484,"o":0.62041,"h":0.62052,"l":0.62040,"c":0.62051},
{"i":485,"o":0.62051,"h":0.62057,"l":0.62046,"c":0.62048},
{"i":486,"o":0.62048,"h":0.62050,"l":0.62040,"c":0.62047},
{"i":487,"o":0.62047,"h":0.62064,"l":0.62040,"c":0.62057},
{"i":488,"o":0.62057,"h":0.62067,"l":0.62055,"c":0.62066},
{"i":489,"o":0.62066,"h":0.62075,"l":0.62065,"c":0.62074},
{"i":490,"o":0.62074,"h":0.62084,"l":0.62072,"c":0.62078},
{"i":491,"o":0.62078,"h":0.62084,"l":0.62070,"c":0.62078},
{"i":492,"o":0.62056,"h":0.62077,"l":0.62027,"c":0.62047}
    ],
    "bid": [{"price": 0.62047}]
  },
  "layer": [
    {
      "data": {"name": "bid"},
      "mark": {"type": "rule", "color": "#778899", "strokeWidth": 1},
      "encoding": {
        "y": {
          "field": "price",
          "type": "quantitative",
          "scale": {"domain": [0.619105, 0.630626], "nice": false, "zero": false},
          "axis": {
            "orient": "right",
            "values": [0.6197, 0.6203, 0.6209, 0.6215, 0.6221, 0.6227, 0.6233, 0.6239, 0.6245, 0.6251, 0.6257, 0.6263, 0.6269, 0.6275, 0.6281, 0.6287, 0.6293, 0.6299, 0.6305],
            "format": ".5f",
            "tickSize": 4,
            "labelPadding": 2,
            "labelBaseline": "middle",
            "labelFlush": false,
            "labelOverlap": false
          }
        }
      }
    },
    {
      "data": {"name": "bars"},
      "mark": {"type": "rule", "strokeWidth": 1},
      "encoding": {
        "x": {
          "field": "i",
          "type": "quantitative",
          "scale": {"domain": [0, 614.5], "nice": false, "zero": false},
          "axis": {
            "orient": "bottom",
            "values": [0, 32, 64, 96, 128, 160, 192, 224, 256, 288, 320, 352, 384, 416, 448, 480],
            "labelExpr": "['27 Feb 2025','27 Feb 09:35','27 Feb 12:15','27 Feb 14:55','27 Feb 17:35','27 Feb 20:15','27 Feb 22:55','28 Feb 01:35','28 Feb 04:15','28 Feb 06:55','28 Feb 09:35','28 Feb 12:15','28 Feb 14:55','28 Feb 17:35','28 Feb 20:15','28 Feb 22:55'][round(datum.value/32)]",
            "labelAlign": "left",
            "labelBaseline": "top",
            "labelFontSize": 16.8,
            "tickSize": 4,
            "labelPadding": 4,
            "labelFlush": false,
            "labelOverlap": false
          }
        },
        "y": {"field": "h", "type": "quantitative"},
        "y2": {"field": "l"},
        "color": {
          "condition": [
            {"test": "datum.c > datum.o", "value": "#0000CD"},
            {"test": "datum.c < datum.o", "value": "#FF0000"}
          ],
          "value": "#000000"
        }
      }
    },
    {
      "data": {"name": "bars"},
      "mark": {"type": "rule", "strokeWidth": 3, "strokeCap": "butt"},
      "encoding": {
        "x": {"field": "i", "type": "quantitative"},
        "y": {"field": "o", "type": "quantitative"},
        "y2": {"field": "c"},
        "color": {
          "condition": [
            {"test": "datum.c > datum.o", "value": "#0000CD"},
            {"test": "datum.c < datum.o", "value": "#FF0000"}
          ],
          "value": "#000000"
        }
      }
    },
    {
      "data": {"name": "bars"},
      "transform": [{"filter": "datum.o == datum.c"}],
      "mark": {"type": "tick", "orient": "horizontal", "size": 3, "thickness": 1, "color": "#000000", "opacity": 1},
      "encoding": {
        "x": {"field": "i", "type": "quantitative"},
        "y": {"field": "o", "type": "quantitative"}
      }
    },
    {
      "data": {"name": "bid"},
      "mark": {"type": "rect", "color": "#778899", "xOffset": 3, "x2Offset": 81, "yOffset": -11, "y2Offset": 12},
      "encoding": {
        "x": {"value": "width"},
        "x2": {"value": "width"},
        "y": {"field": "price", "type": "quantitative"},
        "y2": {"field": "price"}
      }
    },
    {
      "data": {"name": "bid"},
      "mark": {"type": "text", "align": "left", "baseline": "middle", "dx": 7, "color": "#ffffff", "font": "DejaVu Sans", "fontSize": 16},
      "encoding": {
        "x": {"value": "width"},
        "y": {"field": "price", "type": "quantitative"},
        "text": {"field": "price", "type": "quantitative", "format": ".5f"}
      }
    }
  ]
}
